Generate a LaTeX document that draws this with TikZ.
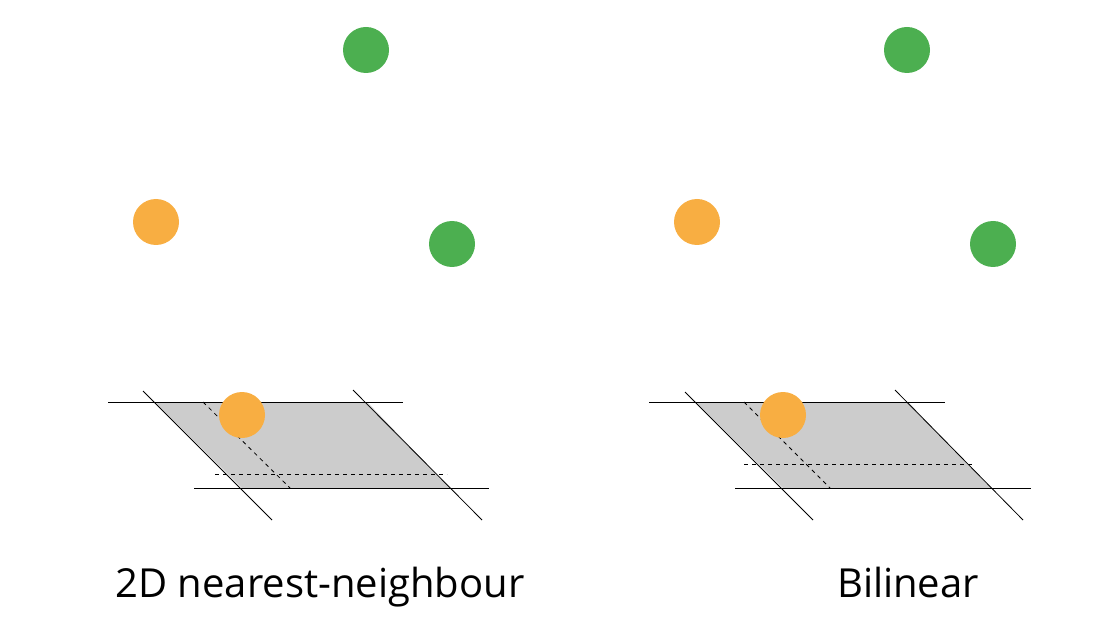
\documentclass[tikz,border=0pt]{standalone}
\usepackage{fontspec}
\setmainfont{Open Sans}
\definecolor{dotgreen}{HTML}{4CAF50}
\definecolor{dotorange}{HTML}{F8AE42}
\definecolor{cellgray}{HTML}{CCCCCC}
\tikzset{
  gdot/.style={circle,fill=dotgreen,minimum size=46pt,inner sep=0pt},
  odot/.style={circle,fill=dotorange,minimum size=46pt,inner sep=0pt},
  gridline/.style={line width=0.8pt,black},
  guide/.style={line width=0.8pt,black,dash pattern=on 4pt off 4pt},
  caption/.style={font=\fontsize{40}{48}\selectfont,inner sep=0pt,anchor=base}
}
\begin{document}
\begin{tikzpicture}[x=1pt,y=-1pt]
\useasboundingbox (0,0) rectangle (1100,620);
% ---------- left panel ----------
\coordinate (LA) at (155,402);
\coordinate (LB) at (367,402);
\coordinate (LC) at (450,488);
\coordinate (LD) at (242,488);
\fill[cellgray] (LA) -- (LB) -- (LC) -- (LD) -- cycle;
\coordinate (LT1) at (108,402); \coordinate (LT2) at (403,402);
\coordinate (LB1) at (194,488); \coordinate (LB2) at (489,488);
\coordinate (LL1) at (143,391); \coordinate (LL2) at (272,520);
\coordinate (LR1) at (353,390); \coordinate (LR2) at (482,520);
\draw[gridline] (LT1) -- (LT2);
\draw[gridline] (LB1) -- (LB2);
\draw[gridline] (LL1) -- (LL2);
\draw[gridline] (LR1) -- (LR2);
\coordinate (LG1) at (203,402); \coordinate (LG2) at (290,488);
\coordinate (LH1) at (215,474); \coordinate (LH2) at (447,474);
\draw[guide] (LG1) -- (LG2);
\draw[guide] (LH1) -- (LH2);
\node[gdot] (lg1) at (366,50) {};
\node[gdot] (lg2) at (452,244) {};
\node[odot] (lo1) at (156,222) {};
\node[odot] (lo2) at (242,415) {};
\node[caption] (lcap) at (320,597) {2D nearest-neighbour};
% ---------- right panel ----------
\coordinate (RA) at (696,402);
\coordinate (RB) at (908,402);
\coordinate (RC) at (991,488);
\coordinate (RD) at (783,488);
\fill[cellgray] (RA) -- (RB) -- (RC) -- (RD) -- cycle;
\coordinate (RT1) at (649,402); \coordinate (RT2) at (945,402);
\coordinate (RB1) at (735,488); \coordinate (RB2) at (1031,488);
\coordinate (RL1) at (685,392); \coordinate (RL2) at (813,520);
\coordinate (RR1) at (895,390); \coordinate (RR2) at (1023,520);
\draw[gridline] (RT1) -- (RT2);
\draw[gridline] (RB1) -- (RB2);
\draw[gridline] (RL1) -- (RL2);
\draw[gridline] (RR1) -- (RR2);
\coordinate (RG1) at (744,402); \coordinate (RG2) at (830,488);
\coordinate (RH1) at (744,464); \coordinate (RH2) at (973,464);
\draw[guide] (RG1) -- (RG2);
\draw[guide] (RH1) -- (RH2);
\node[gdot] (rg1) at (907,50) {};
\node[gdot] (rg2) at (993,244) {};
\node[odot] (ro1) at (697,222) {};
\node[odot] (ro2) at (783,415) {};
\node[caption] (rcap) at (908,597) {Bilinear};
\end{tikzpicture}
\end{document}
